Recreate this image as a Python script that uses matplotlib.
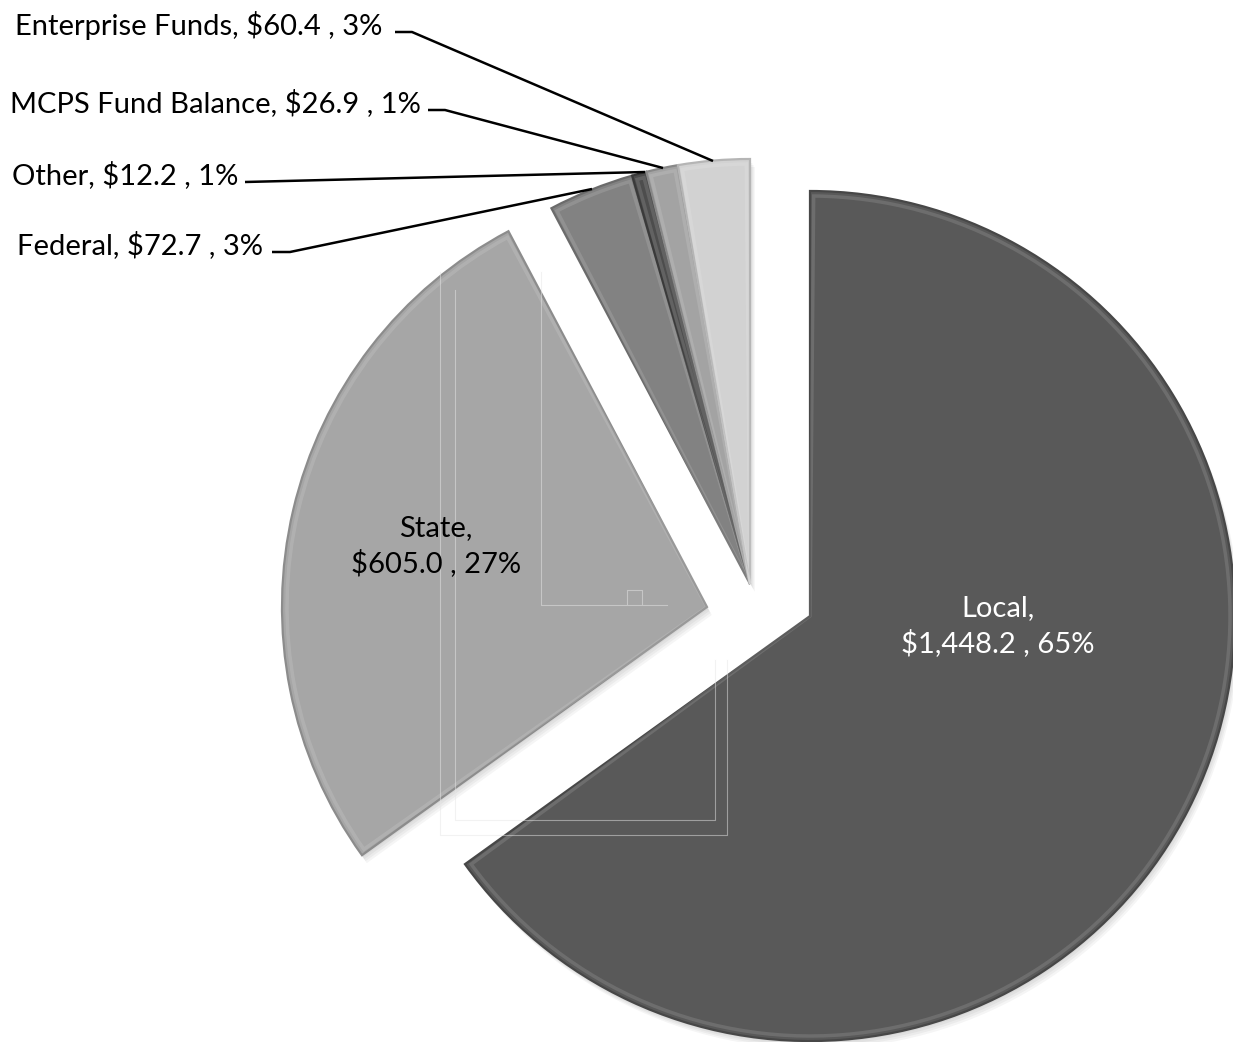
import numpy as np
import matplotlib
matplotlib.use("Agg")
import matplotlib.pyplot as plt
from matplotlib.patches import Wedge

# ---------------- data ----------------
categories = ["Local", "State", "Federal", "Other", "MCPS Fund Balance", "Enterprise Funds"]
amounts = [1448.2, 605.0, 72.7, 12.2, 26.9, 60.4]
amount_labels = ["$1,448.2", "$605.0", "$72.7", "$12.2", "$26.9", "$60.4"]
percent_labels = ["65%", "27%", "3%", "1%", "1%", "3%"]

# ---------------- style ----------------
colors = ["#595959", "#a6a6a6", "#828282", "#4d4d4d", "#a3a3a3", "#d2d2d2"]
edge_colors = ["#474747", "#8c8c8c", "#6b6b6b", "#3a3a3a", "#888888", "#b5b5b5"]
# slice apex positions (pixels, y down) - exploded layout
centers = [(810, 616), (707, 607), (750, 584), (750, 584), (750, 584), (750, 584)]
radius = 425

W, H = 1233, 1042
fig = plt.figure(figsize=(W / 100, H / 100), dpi=100)
ax = fig.add_axes([0, 0, 1, 1])
ax.set_xlim(0, W)
ax.set_ylim(H, 0)
ax.set_aspect("equal")
ax.axis("off")

total = float(np.sum(amounts))
fracs = np.array(amounts) / total
cum = np.concatenate([[0], np.cumsum(fracs)])
# y axis inverted: data angle increasing = visually clockwise; start at top (-90)
theta1 = -90 + cum[:-1] * 360
theta2 = -90 + cum[1:] * 360

# shadows
for i in range(len(amounts)):
    cx, cy = centers[i]
    for off in [2, 4, 6, 8]:
        ax.add_patch(Wedge((cx + off * 0.6, cy + off), radius, theta1[i], theta2[i],
                           facecolor="black", edgecolor="none", alpha=0.04, zorder=1))

for i in range(len(amounts)):
    cx, cy = centers[i]
    ax.add_patch(Wedge((cx, cy), radius, theta1[i], theta2[i],
                       facecolor=colors[i], edgecolor=edge_colors[i], linewidth=1.6, zorder=2))
    # soft inner bevel highlight
    ax.add_patch(Wedge((cx, cy), radius - 5, theta1[i] + 0.5, theta2[i] - 0.5,
                       facecolor="none", edgecolor="white", linewidth=2.5, alpha=0.12, zorder=3))

# faint rectangle artifacts
art = dict(color="#e6e6e6", lw=0.8, alpha=0.5, zorder=4)
ax.plot([440, 440, 727, 727], [272, 835, 835, 660], **art)
ax.plot([455, 455, 715, 715], [290, 820, 820, 660], **art)
ax.plot([541, 541, 667], [272, 605, 605], **art)
ax.plot([627, 627, 642, 642], [604, 590, 590, 604], **art)

font = "Lato"
fs = 21

# inside labels
ax.text(998, 626, f"{categories[0]},\n{amount_labels[0]} , {percent_labels[0]}",
        ha="center", va="center", color="white", fontsize=fs, family=font,
        linespacing=1.38, zorder=5)
ax.text(436, 546, f"{categories[1]},\n{amount_labels[1]} , {percent_labels[1]}",
        ha="center", va="center", color="black", fontsize=fs, family=font,
        linespacing=1.38, zorder=5)

# outside labels with leader lines
outside = [
    # idx, text-left x, text y, leader points
    (5, 15, 25, [(395, 32), (412, 32), (713, 161)]),
    (4, 10, 103, [(428, 110), (445, 110), (663, 168)]),
    (3, 12, 175, [(245, 182), (645, 172)]),
    (2, 17, 245, [(272, 252), (290, 252), (592, 189)]),
]
for idx, tx, ty, pts in outside:
    ax.text(tx, ty, f"{categories[idx]}, {amount_labels[idx]} , {percent_labels[idx]}",
            ha="left", va="center", color="black", fontsize=fs, family=font, zorder=5)
    xs, ys = zip(*pts)
    ax.plot(xs, ys, color="black", lw=1.8, zorder=5, solid_capstyle="butt")

fig.savefig("out.png", dpi=100, facecolor="white")
